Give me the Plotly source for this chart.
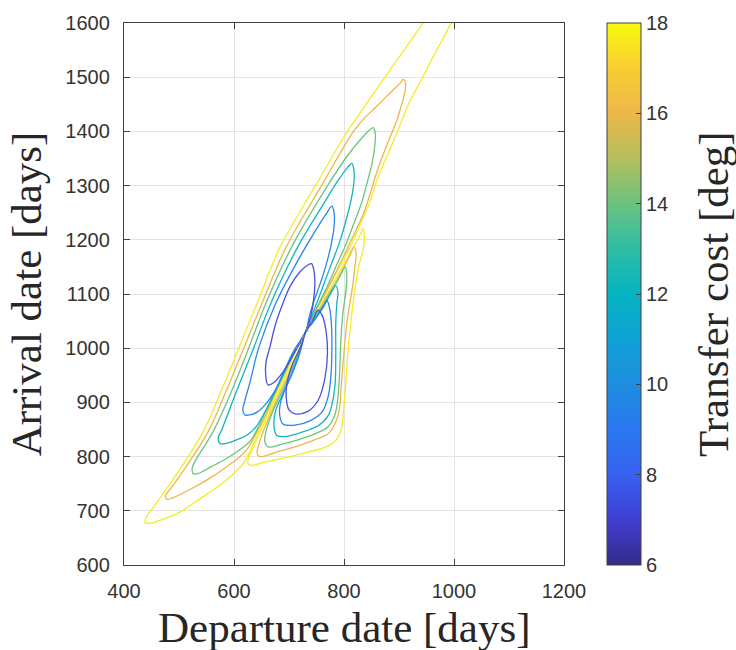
import plotly.graph_objects as go

# ---------------- data (departure [days], arrival [days]) ----------------
LEVELS = [8, 10, 12, 14, 16, 18]
LEVEL_COLORS = ["#4452e3", "#2a86ec", "#13b3c3", "#6cc47c", "#efb54d", "#f3ee24"]

# upper/left lobe contours
YEL_LU_DEP = [438, 442, 453, 496, 544, 576, 609, 642, 684, 747, 805, 838, 873, 942, 967, 1015,
              993, 967, 942, 918, 905, 889, 862, 847, 831, 816, 799, 780, 764, 747, 738, 731,
              711, 695, 678, 662, 645, 629, 618, 604, 575, 538, 502, 475, 447, 438]
YEL_LU_ARR = [678, 691, 706, 768, 846, 919, 1001, 1083, 1187, 1298, 1398, 1447, 1498, 1598, 1638, 1638,
              1596, 1547, 1498, 1452, 1420, 1380, 1316, 1270, 1232, 1197, 1163, 1128, 1097, 1066, 1048, 1032,
              992, 955, 919, 882, 846, 809, 789, 773, 748, 722, 698, 686, 677, 678]

ORA_LU_DEP = [478, 476, 484, 504, 553, 585, 618, 651, 695, 758, 816, 833, 860, 887, 902, 908,
              912, 909, 904, 896, 880, 862, 847, 835, 820, 805, 789, 773, 758, 744, 731,
              710, 693, 676, 660, 642, 625, 611, 593, 562, 525, 489, 478]
ORA_LU_ARR = [721, 729, 740, 768, 846, 919, 1001, 1083, 1187, 1298, 1398, 1420, 1447, 1474, 1489, 1496,
              1487, 1465, 1447, 1420, 1380, 1332, 1283, 1247, 1214, 1181, 1148, 1115, 1086, 1059, 1032,
              992, 955, 919, 882, 846, 815, 800, 786, 764, 742, 724, 721]

GRN_LU_DEP = [526, 524, 529, 562, 595, 627, 658, 705, 769, 807, 836, 847, 853,
              857, 856, 851, 842, 831, 816, 802, 786, 771, 756, 743, 731,
              709, 692, 675, 657, 640, 629, 611, 584, 556, 535, 526]
GRN_LU_ARR = [768, 779, 791, 846, 919, 1001, 1083, 1187, 1298, 1356, 1392, 1403, 1407,
              1396, 1374, 1341, 1305, 1265, 1225, 1188, 1152, 1117, 1086, 1059, 1032,
              992, 955, 919, 882, 846, 828, 813, 795, 780, 769, 768]

TEA_LU_DEP = [575, 571, 578, 604, 636, 667, 716, 762, 789, 807, 814,
              818, 818, 813, 804, 793, 780, 766, 753, 741, 731,
              708, 691, 674, 656, 640, 624, 602, 584, 575]
TEA_LU_ARR = [824, 833, 850, 919, 1001, 1083, 1187, 1265, 1309, 1334, 1341,
              1329, 1305, 1274, 1237, 1199, 1163, 1126, 1090, 1059, 1032,
              992, 955, 919, 882, 855, 840, 830, 824, 824]

BLU_LU_DEP = [620, 616, 620, 629, 645, 676, 713, 744, 767, 778,
              782, 782, 776, 767, 755, 744, 736, 731,
              707, 690, 673, 656, 642, 629, 620]
BLU_LU_ARR = [877, 886, 904, 937, 1001, 1083, 1156, 1210, 1247, 1262,
              1250, 1225, 1188, 1152, 1114, 1083, 1055, 1032,
              992, 955, 919, 895, 882, 877, 877]

PUR_LU_DEP = [662, 658, 658, 665, 676, 689, 702, 720, 735, 741,
              745, 747, 745, 740, 731, 716, 702, 687, 673, 662]
PUR_LU_ARR = [932, 946, 973, 1001, 1046, 1083, 1114, 1141, 1154, 1156,
              1145, 1123, 1092, 1061, 1032, 1003, 977, 953, 937, 932]

# lower/right lobe contours
YEL_R_DEP = [835, 837, 835, 827, 820, 813, 807, 803, 799, 795, 785, 765, 733, 696, 656, 631, 625, 627,
             633, 648, 665, 681, 698, 715, 731, 740, 750, 760, 770, 780, 790, 800, 810, 820, 829, 835]
YEL_R_ARR = [1221, 1206, 1183, 1152, 1110, 1053, 992, 931, 882, 850, 830, 817, 808, 799, 790, 784, 788, 799,
             813, 846, 882, 919, 955, 992, 1032, 1048, 1064, 1083, 1101, 1119, 1137, 1156, 1174, 1192, 1208, 1221]

ORA_R_DEP = [818, 822, 820, 815, 806, 800, 795, 792, 785, 771, 744, 711, 676, 647, 642, 644,
             653, 668, 684, 701, 716, 731, 740, 750, 761, 771, 782, 792, 802, 811, 818]
ORA_R_ARR = [1186, 1174, 1152, 1110, 1053, 992, 931, 891, 864, 842, 830, 818, 808, 800, 806, 818,
             846, 882, 919, 955, 992, 1032, 1046, 1063, 1081, 1099, 1117, 1135, 1154, 1172, 1186]

GRN_R_DEP = [802, 805, 804, 798, 794, 792, 789, 784, 771, 747, 716, 684, 662, 656, 659,
             670, 687, 703, 718, 731, 741, 751, 763, 773, 784, 794, 802]
GRN_R_ARR = [1150, 1137, 1110, 1064, 1010, 955, 910, 879, 855, 842, 831, 822, 818, 828, 850,
             882, 919, 955, 992, 1032, 1046, 1063, 1081, 1099, 1117, 1135, 1150]

TEA_R_DEP = [785, 789, 787, 785, 785, 784, 779, 771, 753, 720, 693, 678, 673, 675, 686, 704, 719,
             731, 742, 753, 765, 775, 785]
TEA_R_ARR = [1115, 1103, 1083, 1046, 992, 937, 900, 875, 857, 844, 837, 839, 853, 882, 910, 951, 992,
             1032, 1046, 1063, 1081, 1099, 1115]

BLU_R_DEP = [769, 774, 777, 778, 776, 771, 760, 738, 711, 689, 683, 684, 691, 705, 720,
             731, 742, 754, 762, 769]
BLU_R_ARR = [1088, 1073, 1046, 1001, 946, 910, 882, 866, 858, 860, 877, 897, 919, 951, 992,
             1032, 1046, 1063, 1075, 1088]

PUR_R_DEP = [753, 760, 767, 770, 765, 753, 735, 711, 700, 695, 696, 706, 722, 731, 742, 753]
PUR_R_ARR = [1070, 1061, 1034, 992, 943, 904, 884, 879, 886, 908, 933, 970, 1004, 1032, 1050, 1070]

# stray points of the singular (180 deg) transfer line
SING_DEP = [714, 720, 726, 733, 741]
SING_ARR = [1001, 1010, 1021, 1033, 1048]

X_TICKS = [400, 600, 800, 1000, 1200]
Y_TICKS = [600, 700, 800, 900, 1000, 1100, 1200, 1300, 1400, 1500, 1600]
CB_TICKS = [6, 8, 10, 12, 14, 16, 18]

PARULA = [
    [0.000, "#352a87"], [0.083, "#3f3fd2"], [0.167, "#3760f0"], [0.250, "#2a78ef"],
    [0.333, "#1e8de0"], [0.417, "#10a2d5"], [0.500, "#06b4c2"], [0.583, "#2ebda5"],
    [0.667, "#6bc37f"], [0.750, "#b4bf5c"], [0.833, "#ecb84a"], [0.917, "#f9cd33"],
    [1.000, "#f9fb0e"],
]

# ---------------- figure ----------------
curves = [
    (YEL_LU_DEP, YEL_LU_ARR, 5), (ORA_LU_DEP, ORA_LU_ARR, 4), (GRN_LU_DEP, GRN_LU_ARR, 3),
    (TEA_LU_DEP, TEA_LU_ARR, 2), (BLU_LU_DEP, BLU_LU_ARR, 1), (PUR_LU_DEP, PUR_LU_ARR, 0),
    (YEL_R_DEP, YEL_R_ARR, 5), (ORA_R_DEP, ORA_R_ARR, 4), (GRN_R_DEP, GRN_R_ARR, 3),
    (TEA_R_DEP, TEA_R_ARR, 2), (BLU_R_DEP, BLU_R_ARR, 1), (PUR_R_DEP, PUR_R_ARR, 0),
]

fig = go.Figure()
for dep, arr, k in curves:
    fig.add_trace(go.Scatter(
        x=dep, y=arr, mode="lines",
        line=dict(color=LEVEL_COLORS[k], width=1.3, shape="spline", smoothing=1.0),
        hoverinfo="skip", showlegend=False,
    ))

fig.add_trace(go.Scatter(
    x=SING_DEP, y=SING_ARR, mode="markers",
    marker=dict(size=2.5, color="#6f82b8"), hoverinfo="skip", showlegend=False,
))

# colorbar carrier
fig.add_trace(go.Scatter(
    x=[None], y=[None], mode="markers", showlegend=False, hoverinfo="skip",
    marker=dict(
        color=[6], cmin=6, cmax=18, colorscale=PARULA, showscale=True,
        colorbar=dict(
            x=1.0977, xanchor="left", xpad=0, ypad=0, y=0.5, yanchor="middle",
            len=1.0, lenmode="fraction", thickness=34, thicknessmode="pixels",
            outlinewidth=1, outlinecolor="#404040",
            tickvals=CB_TICKS, ticks="inside", ticklen=5, tickcolor="#404040",
            tickfont=dict(family="Liberation Sans", size=20, color="#333333"),
        ),
    ),
))

axis_common = dict(
    showgrid=True, gridcolor="#e3e3e3", gridwidth=1,
    showline=True, linecolor="#404040", linewidth=1.3, mirror="ticks",
    ticks="inside", ticklen=6, tickcolor="#404040", tickwidth=1,
    tickfont=dict(family="Liberation Sans", size=20, color="#333333"),
    zeroline=False,
)

fig.update_layout(
    width=736, height=650,
    margin=dict(l=124, r=172, t=16, b=85),
    paper_bgcolor="white", plot_bgcolor="white",
    xaxis=dict(range=[400, 1200], tickvals=X_TICKS, ticklabelstandoff=8, **axis_common),
    yaxis=dict(range=[600, 1600], tickvals=Y_TICKS, ticklabelstandoff=9, **axis_common),
    annotations=[
        dict(text="Departure date [days]", x=0.5, y=-0.115, xref="paper", yref="paper",
             xanchor="center", yanchor="middle", showarrow=False,
             font=dict(family="Liberation Serif", size=43, color="#262626")),
        dict(text="Arrival date [days]", x=-0.222, y=0.5, xref="paper", yref="paper",
             xanchor="center", yanchor="middle", showarrow=False, textangle=-90,
             font=dict(family="Liberation Serif", size=43, color="#262626")),
        dict(text="Transfer cost [deg]", x=1.3386, y=0.5, xref="paper", yref="paper",
             xanchor="center", yanchor="middle", showarrow=False, textangle=-90,
             font=dict(family="Liberation Serif", size=43, color="#262626")),
    ],
)

fig.write_html("out.html")
